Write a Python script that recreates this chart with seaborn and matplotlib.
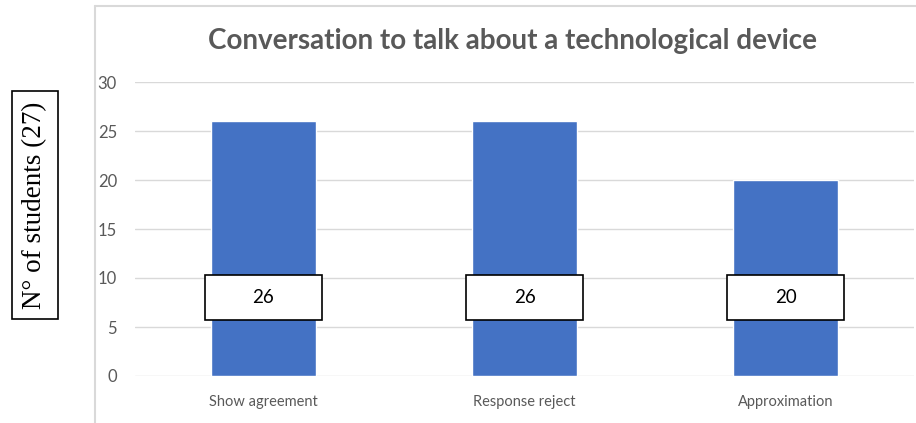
import matplotlib
matplotlib.use("Agg")
import matplotlib.pyplot as plt
import seaborn as sns
import pandas as pd
from matplotlib.patches import Rectangle
from matplotlib.lines import Line2D

categories = ["Show agreement", "Response reject", "Approximation"]
values = [26, 26, 20]
yticks = [0, 5, 10, 15, 20, 25, 30]
title = "Conversation to talk about a technological device"
ylabel = "N° of students (27)"

sns.set_theme(style="white")
plt.rcParams['font.family'] = ['Lato', 'DejaVu Sans']

df = pd.DataFrame({"cat": categories, "val": values})

fig = plt.figure(figsize=(9.16, 4.23), dpi=100)
ax = fig.add_axes([135/916, 1-376/423, 779/916, (376-82)/423])
sns.barplot(data=df, x="cat", y="val", color="#4472C4", saturation=1, width=0.40, ax=ax, zorder=3)
ax.set_xlim(-0.492, 2.492)
ax.set_ylim(0, 30)
ax.set_yticks(yticks)
ax.yaxis.grid(True, color="#d9d9d9", linewidth=1, zorder=0)
ax.set_axisbelow(True)
for s in ax.spines.values():
    s.set_visible(False)
ax.set_xlabel("")
ax.set_ylabel("")
ax.tick_params(axis="y", length=0, pad=13, labelsize=12, labelcolor="#595959")
ax.tick_params(axis="x", length=0, pad=14, labelsize=10.5, labelcolor="#595959")

# data labels in boxes
box_w = 117/261
box_h = 4.6
label_y = 8.0
for i, v in enumerate(values):
    ax.add_patch(Rectangle((i - box_w/2, label_y - box_h/2), box_w, box_h,
                           facecolor="white", edgecolor="black", linewidth=1.2, zorder=5))
    ax.text(i, label_y, str(v), ha="center", va="center", fontsize=13.5, color="black", zorder=6)

fig.text(512/916, 1-41/423, title, ha="center", va="center", fontsize=20,
         fontweight="bold", color="#595959")

# outer chart frame
fig.add_artist(Line2D([95/916, 95/916], [0, 1-6/423], color="#d9d9d9", linewidth=1.5))
fig.add_artist(Line2D([95/916, 1], [1-6/423, 1-6/423], color="#d9d9d9", linewidth=1.5))

fig.text(35/916, 1-205/423, ylabel, rotation=90, ha="center", va="center",
         fontsize=19.5, family=["Liberation Serif", "DejaVu Serif"], color="black",
         bbox=dict(boxstyle="square,pad=0.38", facecolor="white", edgecolor="black", linewidth=1.2))

fig.savefig("out.png", dpi=100)
